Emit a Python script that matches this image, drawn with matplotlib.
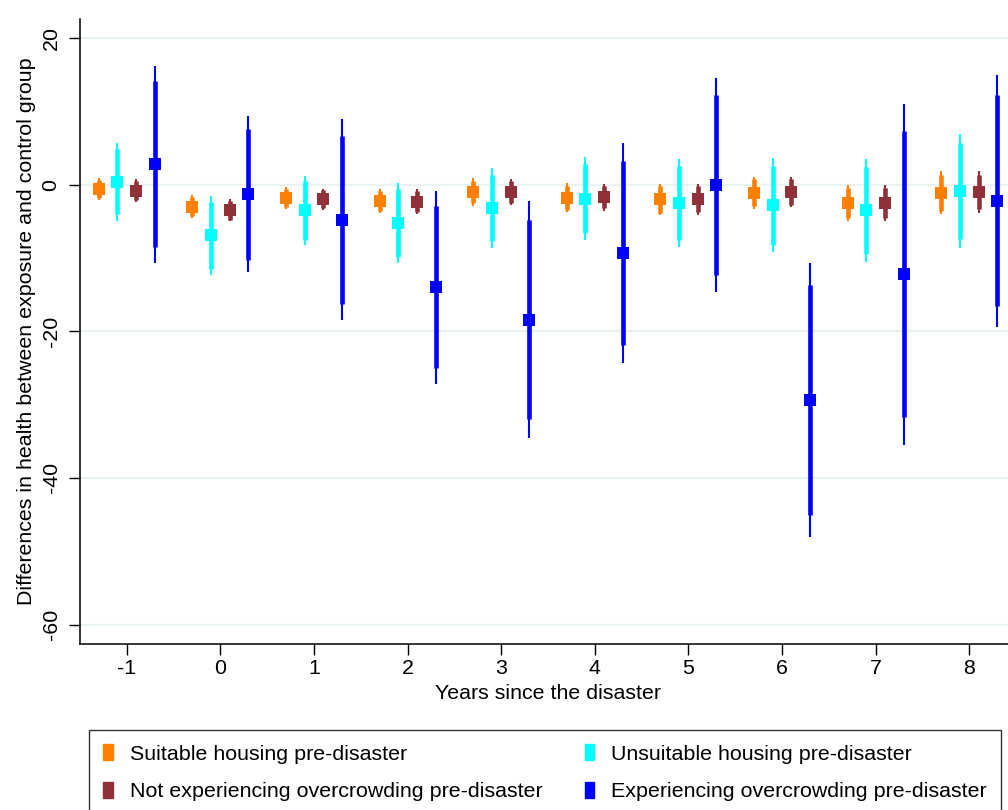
import numpy as np
import matplotlib
matplotlib.use("Agg")
import matplotlib.pyplot as plt
from matplotlib.patches import Patch

plt.rcParams["font.family"] = ["Liberation Sans", "DejaVu Sans"]

years = [-1, 0, 1, 2, 3, 4, 5, 6, 7, 8]

# Point estimates and standard errors for each group
suitable_coef = [-0.6, -3.0, -1.8, -2.2, -1.0, -1.8, -2.0, -1.1, -2.5, -1.1]
suitable_se = [0.77, 0.79, 0.77, 0.84, 0.94, 1.00, 1.10, 1.10, 1.25, 1.50]

unsuitable_coef = [0.4, -6.9, -3.5, -5.2, -3.2, -1.9, -2.5, -2.8, -3.5, -0.9]
unsuitable_se = [2.70, 2.76, 2.42, 2.80, 2.76, 2.88, 3.04, 3.29, 3.60, 3.98]

not_crowded_coef = [-0.8, -3.5, -2.0, -2.3, -1.0, -1.7, -2.0, -1.0, -2.5, -1.0]
not_crowded_se = [0.77, 0.77, 0.74, 0.84, 0.89, 0.94, 1.07, 1.05, 1.22, 1.43]

crowded_coef = [2.8, -1.3, -4.8, -14.0, -18.4, -9.3, 0.0, -29.4, -12.2, -2.2]
crowded_se = [6.86, 5.43, 6.99, 6.71, 8.24, 7.65, 7.45, 9.54, 11.86, 8.75]

labels = [
    "Suitable housing pre-disaster",
    "Unsuitable housing pre-disaster",
    "Not experiencing overcrowding pre-disaster",
    "Experiencing overcrowding pre-disaster",
]
colors = ["#FF7F00", "#00FFFF", "#903038", "#0000FF"]
offsets = [-0.3, -0.1, 0.1, 0.3]

series = [
    (suitable_coef, suitable_se),
    (unsuitable_coef, unsuitable_se),
    (not_crowded_coef, not_crowded_se),
    (crowded_coef, crowded_se),
]

Z90, Z95 = 1.645, 1.96

fig = plt.figure(figsize=(10.08, 8.10), dpi=100)
W, H = 1008, 810
ax = fig.add_axes([80 / W, 1 - 644 / H, 936 / W, 625 / H])

for (coef, se), col, off in zip(series, colors, offsets):
    x = np.array(years, dtype=float) + off
    c = np.array(coef)
    s = np.array(se)
    ax.vlines(x, c - Z95 * s, c + Z95 * s, color=col, lw=1.5, zorder=3)
    ax.vlines(x, c - Z90 * s, c + Z90 * s, color=col, lw=3.3, zorder=3)
    ax.plot(x, c, ls="none", marker="s", ms=8, mfc=col, mec=col, mew=0, zorder=4)

ax.set_xlim(-1.5, 8.5)
ax.set_ylim(-62.66, 22.6)
ax.set_xticks(years)
ax.set_xticklabels([str(y) for y in years])
ax.set_yticks([-60, -40, -20, 0, 20])
ax.set_yticklabels(["-60", "-40", "-20", "0", "20"], rotation=90, va="center")
ax.grid(axis="y", color="#EAF2F3", lw=1.6, zorder=0)
ax.set_axisbelow(True)

for side in ("top", "right"):
    ax.spines[side].set_visible(False)
for side in ("left", "bottom"):
    ax.spines[side].set_linewidth(1.1)
    ax.spines[side].set_color("black")

ax.tick_params(axis="both", direction="out", length=8, width=1.0, labelsize=15.4, pad=3)
ax.tick_params(axis="y", pad=6)
ax.set_xlabel("Years since the disaster", fontsize=15.4, labelpad=4)
ax.set_ylabel("Differences in health between exposure and control group", fontsize=15.4, labelpad=4)

# legend filled column by column: left column holds series 0 and 2
handles = [Patch(facecolor=c, edgecolor=c) for c in colors]
order = [0, 2, 1, 3]
leg_top = 1 - 730 / H
leg_h = 0.12
leg = fig.legend(
    [handles[i] for i in order],
    [labels[i] for i in order],
    loc="upper left",
    bbox_to_anchor=(89 / W, leg_top - leg_h, 912 / W, leg_h),
    mode="expand",
    ncol=2,
    fontsize=15.4,
    frameon=True,
    fancybox=False,
    edgecolor="black",
    handlelength=0.45,
    handleheight=0.8,
    handletextpad=0.8,
    labelspacing=0.85,
    borderpad=0.65,
    borderaxespad=0,
)
leg.get_frame().set_linewidth(1.0)

fig.savefig("out.png", dpi=100, facecolor="white")
